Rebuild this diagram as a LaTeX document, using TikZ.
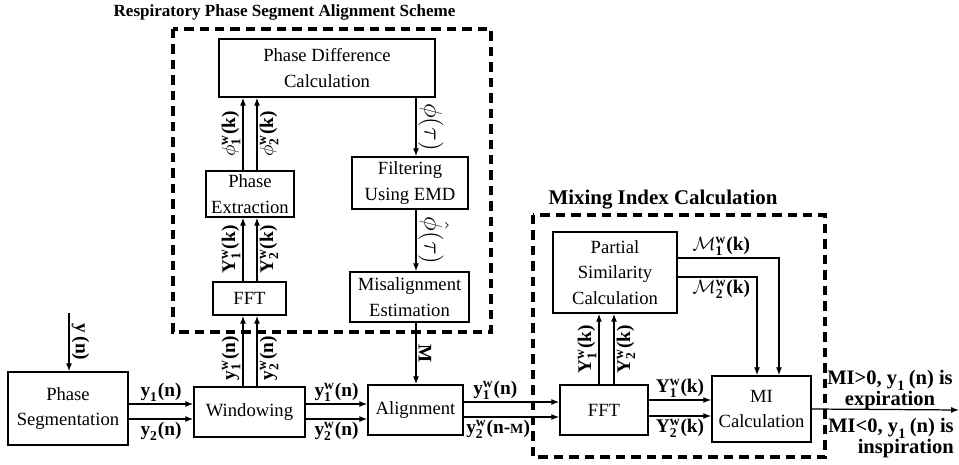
\documentclass[tikz,border=0pt]{standalone}
\usepackage{amsmath}
\usepackage{fontspec}
\setmainfont{Liberation Serif}
\usetikzlibrary{arrows.meta}

\newcommand\sigw[3]{$\textbf{#1}^{\textbf{w}}_{\textbf{#2}}\textbf{(#3)}$}

\tikzset{
  blk/.style={draw, line width=0.85pt, align=center, inner sep=1pt,
    font=\rmfamily\fontsize{10.6}{14.5}\selectfont},
  arr/.style={-{Latex[length=4.5pt,width=3.4pt]}, line width=0.7pt},
  grp/.style={line width=1.9pt, dash pattern=on 5.4pt off 3.4pt},
  lbl/.style={font=\bfseries\fontsize{11}{12}\selectfont, inner sep=1.2pt},
  big/.style={font=\bfseries\fontsize{14.5}{15}\selectfont, inner sep=1pt},
  ttl/.style={font=\bfseries\fontsize{9.7}{11}\selectfont, inner sep=0pt},
}

\begin{document}
\begin{tikzpicture}[x=0.02cm, y=-0.02cm]
  \useasboundingbox (0,0) rectangle (959,465);

  % dashed frames and titles
  \draw[grp] (173,29) rectangle (491,332);
  \draw[grp] (533,215) rectangle (825,457);
  \node[ttl] (t1) at (284.5,12) {Respiratory Phase Segment Alignment Scheme};
  \node[ttl, font=\bfseries\fontsize{11.9}{13}\selectfont] (t2) at (663,200) {Mixing Index Calculation};

  % blocks
  \node[blk, minimum width=2.4cm, minimum height=1.46cm] (seg) at (68,408.5) {Phase\\Segmentation};
  \node[blk, minimum width=2.22cm, minimum height=1.0cm] (win) at (249.5,412) {Windowing};
  \node[blk, minimum width=1.9cm, minimum height=1.0cm] (align) at (415.5,410) {Alignment};
  \node[blk, minimum width=1.76cm, minimum height=1.0cm] (fftb) at (604,410) {FFT};
  \node[blk, minimum width=1.98cm, minimum height=1.32cm] (mi) at (761.5,409) {MI\\Calculation};
  \node[blk, minimum width=1.46cm, minimum height=0.66cm] (ffta) at (249.5,298.5) {FFT};
  \node[blk, minimum width=1.76cm, minimum height=0.92cm] (ext) at (250,194) {Phase\\Extraction};
  \node[blk, minimum width=4.32cm, minimum height=1.16cm] (diff) at (327,68) {Phase Difference\\Calculation};
  \node[blk, minimum width=2.32cm, minimum height=1.04cm] (filt) at (410,183) {Filtering\\Using EMD};
  \node[blk, minimum width=2.38cm, minimum height=1.0cm] (mis) at (409.5,297) {Misalignment\\Estimation};
  \node[blk, minimum width=2.48cm, minimum height=1.62cm] (part) at (615,272.5) {Partial\\Similarity\\Calculation};

  % rows and columns of the connectors
  \coordinate (r1) at (0,404); \coordinate (r2) at (0,419);
  \coordinate (r3) at (0,402); \coordinate (r4) at (0,417);
  \coordinate (r5) at (0,400); \coordinate (r6) at (0,416);
  \coordinate (r7) at (0,258); \coordinate (r8) at (0,277);
  \coordinate (c1) at (243,0); \coordinate (c2) at (257,0);
  \coordinate (c3) at (416,0);
  \coordinate (c4) at (599,0); \coordinate (c5) at (614,0);
  \coordinate (c6) at (757,0); \coordinate (c7) at (779,0);
  \coordinate (yin) at (69,313);
  \coordinate (out) at (959,410);

  % input
  \draw[arr] (yin) -- node[lbl, rotate=-90, anchor=south] (ly) {$\textbf{y}$\,\textbf{(n)}} (yin |- seg.north);

  % bottom chain
  \draw[arr] (seg.east |- r1) -- node[lbl, above] (l1) {$\textbf{y}_{\textbf{1}}\textbf{(n)}$} (win.west |- r1);
  \draw[arr] (seg.east |- r2) -- node[lbl, below] (l2) {$\textbf{y}_{\textbf{2}}\textbf{(n)}$} (win.west |- r2);
  \draw[arr] (win.east |- r1) -- node[lbl, above] (l3) {\sigw{y}{1}{n}} (align.west |- r1);
  \draw[arr] (win.east |- r2) -- node[lbl, below] (l4) {\sigw{y}{2}{n}} (align.west |- r2);
  \draw[arr] (align.east |- r3) -- node[lbl, above, pos=0.33] (l5) {\sigw{y}{1}{n}} (fftb.west |- r3);
  \draw[arr] (align.east |- r4) -- node[lbl, below, pos=0.36] (l6) {$\textbf{y}^{\textbf{w}}_{\textbf{2}}\textbf{(n-}${\footnotesize M}\textbf{)}} (fftb.west |- r4);
  \draw[arr] (fftb.east |- r5) -- node[lbl, above] (l7) {\sigw{Y}{1}{k}} (mi.west |- r5);
  \draw[arr] (fftb.east |- r6) -- node[lbl, below] (l8) {\sigw{Y}{2}{k}} (mi.west |- r6);
  \draw[arr] (mi.east) -- (out);
  \node[lbl, align=center, font=\bfseries\fontsize{11.7}{11.5}\selectfont] (o1) at (890,390) {MI>0, $\textbf{y}_{\textbf{1}}$\,(n) is\\expiration};
  \node[lbl, align=right, font=\bfseries\fontsize{11.7}{11.5}\selectfont] (o2) at (891,438) {MI<0, $\textbf{y}_{\textbf{1}}$\,(n) is\\inspiration};

  % alignment scheme
  \draw[arr] (win.north -| c1) -- node[lbl, rotate=90, anchor=south, pos=0.4] (l9) {\sigw{y}{1}{n}} (ffta.south -| c1);
  \draw[arr] (win.north -| c2) -- node[lbl, rotate=90, anchor=north, pos=0.4] (l10) {\sigw{y}{2}{n}} (ffta.south -| c2);
  \draw[arr] (ffta.north -| c1) -- node[lbl, rotate=90, anchor=south] (l11) {\sigw{Y}{1}{k}} (ext.south -| c1);
  \draw[arr] (ffta.north -| c2) -- node[lbl, rotate=90, anchor=north] (l12) {\sigw{Y}{2}{k}} (ext.south -| c2);
  \draw[arr] (ext.north -| c1) -- node[lbl, rotate=90, anchor=south] (l13) {$\phi^{\textbf{w}}_{\textbf{1}}\textbf{(k)}$} (diff.south -| c1);
  \draw[arr] (ext.north -| c2) -- node[lbl, rotate=90, anchor=north] (l14) {$\phi^{\textbf{w}}_{\textbf{2}}\textbf{(k)}$} (diff.south -| c2);
  \draw[arr] (diff.south -| c3) -- node[big, rotate=-90, anchor=south] (l15) {$\phi(\tau)$} (filt.north -| c3);
  \draw[arr] (filt.south -| c3) -- node[big, rotate=-90, anchor=south] (l16) {$\hat{\phi}(\tau)$} (mis.north -| c3);
  \draw[arr] (mis.south -| c3) -- node[lbl, rotate=-90, anchor=south] (l17) {M} (align.north -| c3);

  % mixing index
  \draw[arr] (fftb.north -| c4) -- node[lbl, rotate=90, anchor=south] (l18) {\sigw{Y}{1}{k}} (part.south -| c4);
  \draw[arr] (fftb.north -| c5) -- node[lbl, rotate=90, anchor=north] (l19) {\sigw{Y}{2}{k}} (part.south -| c5);
  \draw[arr] (part.east |- r7) -- node[lbl, above, pos=0.43] (l20) {$\mathcal{M}^{\textbf{w}}_{\textbf{1}}\textbf{(k)}$} (c7 |- r7) -- (c7 |- mi.north);
  \draw[arr] (part.east |- r8) -- node[lbl, below, pos=0.55] (l21) {$\mathcal{M}^{\textbf{w}}_{\textbf{2}}\textbf{(k)}$} (c6 |- r8) -- (c6 |- mi.north);
\end{tikzpicture}
\end{document}
